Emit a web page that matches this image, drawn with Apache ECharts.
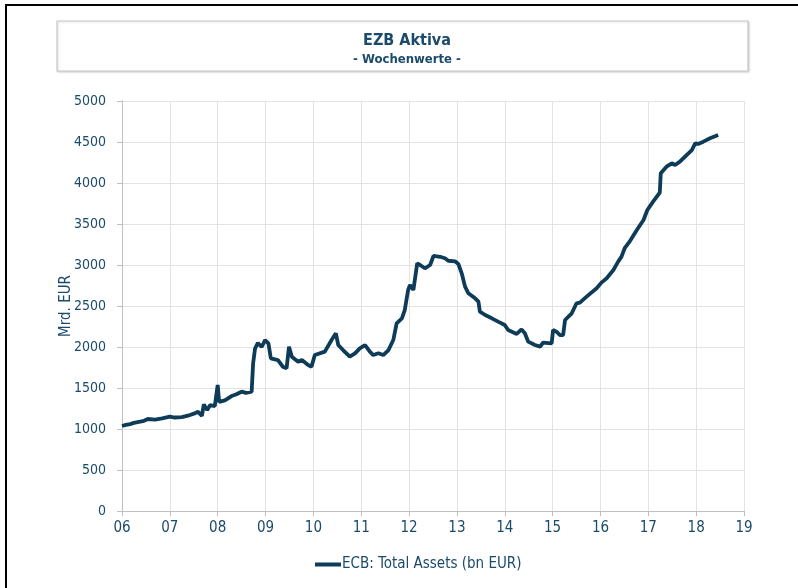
<!DOCTYPE html>
<html>
<head>
<meta charset="utf-8">
<script src="https://cdn.jsdelivr.net/npm/echarts@6/dist/echarts.min.js"></script>
<style>
html,body{margin:0;padding:0;background:#fff;}
#c{width:798px;height:588px;}
</style>
</head>
<body>
<div id="c"></div>
<script>
// Time in decimal years, values in bn EUR
var years = [2006.00,2006.08,2006.17,2006.25,2006.38,2006.46,2006.54,2006.69,2006.84,2007.00,2007.10,2007.25,2007.42,2007.52,2007.59,2007.67,2007.71,2007.78,2007.84,2007.94,2008.00,2008.03,2008.15,2008.29,2008.38,2008.50,2008.59,2008.71,2008.74,2008.78,2008.84,2008.92,2008.99,2009.02,2009.06,2009.11,2009.26,2009.36,2009.44,2009.49,2009.55,2009.68,2009.76,2009.89,2009.96,2010.03,2010.24,2010.38,2010.47,2010.52,2010.62,2010.76,2010.87,2010.97,2011.08,2011.18,2011.25,2011.36,2011.46,2011.57,2011.67,2011.74,2011.85,2011.91,2011.98,2012.02,2012.09,2012.12,2012.17,2012.23,2012.33,2012.44,2012.51,2012.65,2012.75,2012.82,2012.96,2013.03,2013.10,2013.17,2013.24,2013.38,2013.45,2013.48,2013.59,2013.73,2013.86,2014.00,2014.07,2014.25,2014.35,2014.42,2014.49,2014.63,2014.74,2014.80,2014.98,2015.01,2015.08,2015.15,2015.22,2015.26,2015.40,2015.50,2015.57,2015.71,2015.92,2016.02,2016.13,2016.27,2016.37,2016.44,2016.51,2016.62,2016.76,2016.90,2016.98,2017.10,2017.24,2017.26,2017.38,2017.49,2017.56,2017.66,2017.80,2017.91,2017.98,2018.04,2018.15,2018.29,2018.46];
var totalAssets = [1037,1050,1060,1075,1090,1100,1122,1115,1130,1150,1140,1145,1170,1190,1211,1160,1300,1230,1290,1280,1537,1330,1350,1402,1420,1455,1440,1455,1800,1980,2049,2000,2085,2106,2045,1862,1841,1760,1740,2004,1882,1821,1841,1780,1760,1902,1943,2085,2167,2024,1963,1882,1923,1984,2024,1943,1902,1923,1902,1963,2085,2289,2350,2451,2695,2756,2695,2675,3020,3000,2960,3000,3110,3100,3082,3052,3045,3012,2899,2736,2655,2594,2553,2431,2390,2350,2309,2268,2207,2159,2215,2167,2065,2024,2004,2053,2045,2207,2187,2146,2146,2329,2411,2533,2541,2614,2716,2785,2838,2939,3041,3102,3210,3295,3427,3549,3671,3772,3882,4118,4199,4240,4220,4260,4341,4402,4484,4476,4504,4545,4585];
var titleText = "EZB Aktiva";
var subtitleText = "- Wochenwerte -";
var seriesName = "ECB: Total Assets (bn EUR)";
var yAxisName = "Mrd. EUR";

var lineColor = "#0d3b58";
var textColor = "#1b4a6b";
var font = "'Liberation Sans Narrow', 'DejaVu Sans Condensed', sans-serif";

var data = years.map(function(y, i){ return [y, totalAssets[i]]; });

var chart = echarts.init(document.getElementById('c'), null, {renderer:'canvas'});
chart.setOption({
  animation: false,
  backgroundColor: '#fff',
  graphic: [
    {type:'rect', shape:{x:6, y:5, width:820, height:620}, style:{fill:'none', stroke:'#000', lineWidth:2}, z:-1},
    {type:'rect', shape:{x:57, y:21, width:691, height:50}, style:{fill:'#fff', stroke:'#c8c8c8', lineWidth:1.2, shadowBlur:2, shadowColor:'rgba(0,0,0,0.15)', shadowOffsetX:1, shadowOffsetY:1}}
  ],
  title: {
    text: titleText,
    subtext: subtitleText,
    left: 402,
    textAlign: 'center',
    top: 28,
    itemGap: 4,
    textStyle: {fontFamily: font, fontSize: 16, fontWeight: 'bold', color: textColor},
    subtextStyle: {fontFamily: font, fontSize: 13, fontWeight: 'bold', color: textColor}
  },
  legend: {
    data: [{name: seriesName, icon: 'rect'}],
    left: 310, top: 552,
    itemWidth: 26, itemHeight: 4, itemGap: 2,
    textStyle: {fontFamily: font, fontSize: 15, color: textColor, padding: [0,0,0,-4]}
  },
  grid: {left: 122, right: 54, top: 101, bottom: 77, containLabel: false},
  xAxis: {
    type: 'value', min: 2006, max: 2019, interval: 1,
    axisLine: {show: true, lineStyle: {color: '#bfbfbf', width: 1}},
    axisTick: {show: true, length: 5, lineStyle: {color: '#bfbfbf'}},
    axisLabel: {fontFamily: font, fontSize: 15, color: textColor, margin: 10,
      formatter: function(v){ return String(Math.round(v) % 100).padStart(2, '0'); }},
    splitLine: {show: true, lineStyle: {color: '#e3e3e3', width: 1}}
  },
  yAxis: {
    type: 'value', min: 0, max: 5000, interval: 500,
    name: yAxisName, nameLocation: 'middle', nameGap: 48, nameRotate: 90,
    nameMoveOverlap: false,
    nameTextStyle: {fontFamily: font, fontSize: 15, color: textColor},
    axisLine: {show: true, lineStyle: {color: '#bfbfbf', width: 1}},
    axisTick: {show: true, length: 5, lineStyle: {color: '#bfbfbf'}},
    axisLabel: {fontFamily: font, fontSize: 14, color: textColor, margin: 16,
      formatter: function(v){ return String(v); }},
    splitLine: {show: true, lineStyle: {color: '#e3e3e3', width: 1}}
  },
  series: [{
    name: seriesName,
    type: 'line',
    data: data,
    showSymbol: false,
    lineStyle: {color: lineColor, width: 3.8},
    itemStyle: {color: lineColor}
  }]
});
</script>
</body>
</html>
